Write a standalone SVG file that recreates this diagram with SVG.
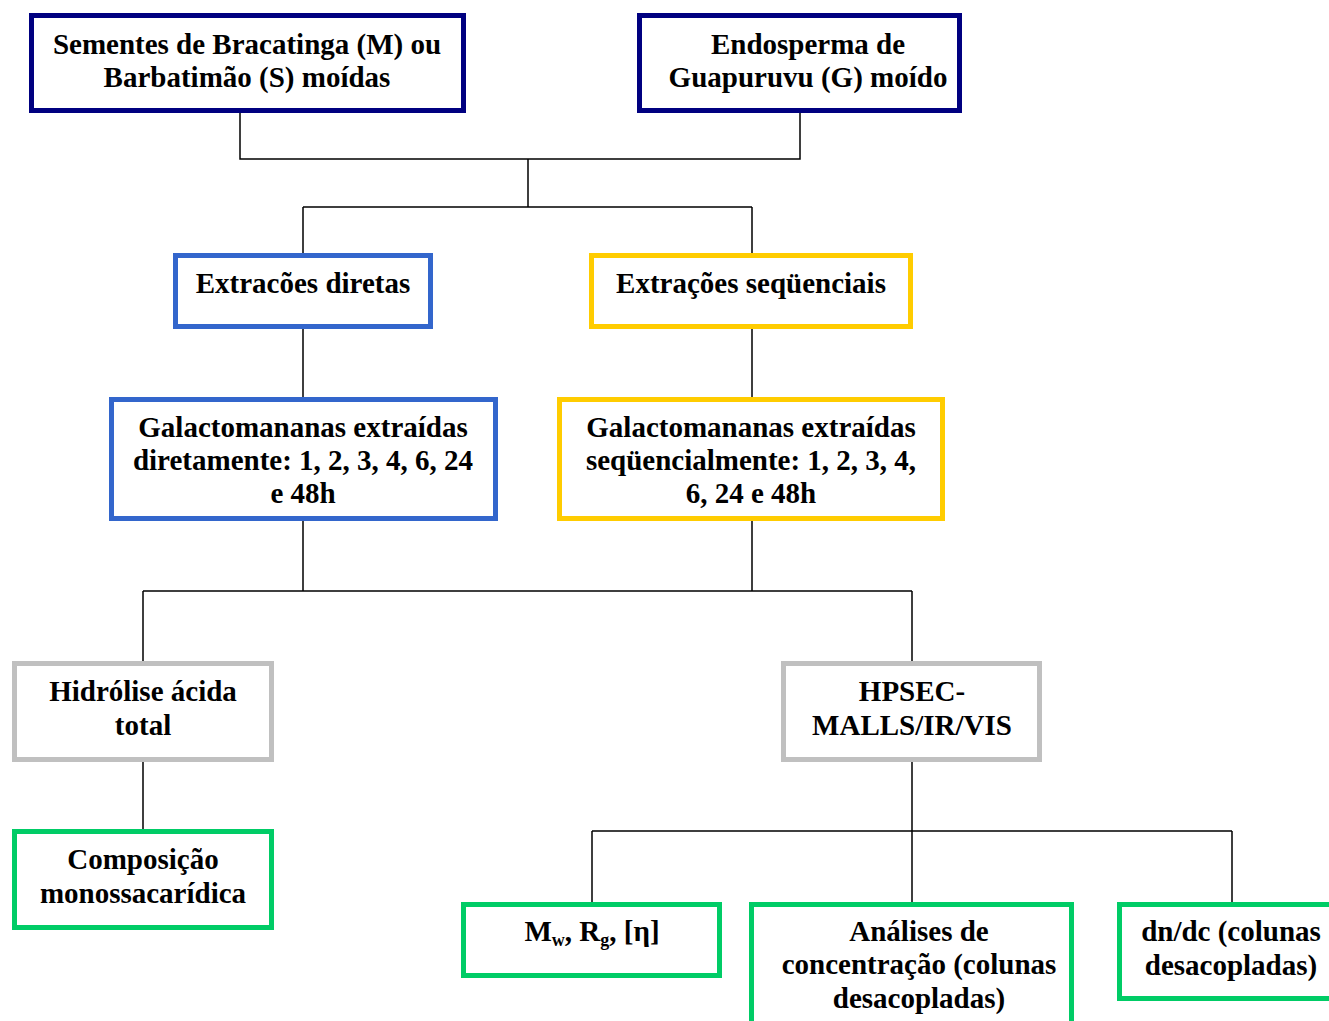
<svg xmlns="http://www.w3.org/2000/svg" width="1329" height="1021" viewBox="0 0 1329 1021">
<style>
.box{fill:#fff;stroke-width:5}
.navy{stroke:#000080}.blue{stroke:#3366CC}.yel{stroke:#FFCC00}.gray{stroke:#C0C0C0}.green{stroke:#00CC66}
text{font-family:"Liberation Serif","Times New Roman",serif;font-weight:bold;font-size:29px;fill:#000;text-anchor:middle}
.c{fill:none;stroke:#000;stroke-width:1.5}
</style>
<rect width="1329" height="1021" fill="#fff"/>
<g id="connectors">
<path class="c" d="M240 113V159H800V113M528 159V207M303 207H752M303 207V254M752 207V254"/>
<path class="c" d="M303 329V398M752 329V398"/>
<path class="c" d="M303 521V591M752 521V591M143 591H912M143 591V662M912 591V662"/>
<path class="c" d="M143 762V830M912 762V903M592 831H1232M592 831V903M1232 831V903"/>
</g>
<g id="n1"><rect class="box navy" x="31.5" y="15.5" width="432" height="95"/>
<text x="247" y="54">Sementes de Bracatinga (M) ou</text><text x="247" y="87">Barbatimão (S) moídas</text></g>
<g id="n2"><rect class="box navy" x="639.5" y="15.5" width="320" height="95"/>
<text x="808" y="54">Endosperma de</text><text x="808" y="87">Guapuruvu (G) moído</text></g>
<g id="n3"><rect class="box blue" x="175.5" y="255.5" width="255" height="71"/>
<text x="303" y="293">Extracões diretas</text></g>
<g id="n4"><rect class="box yel" x="591.5" y="255.5" width="319" height="71"/>
<text x="751" y="293">Extrações seqüenciais</text></g>
<g id="n5"><rect class="box blue" x="111.5" y="399.5" width="384" height="119"/>
<text x="303" y="437">Galactomananas extraídas</text><text x="303" y="470">diretamente: 1, 2, 3, 4, 6, 24</text><text x="303" y="503">e 48h</text></g>
<g id="n6"><rect class="box yel" x="559.5" y="399.5" width="383" height="119"/>
<text x="751" y="437">Galactomananas extraídas</text><text x="751" y="470">seqüencialmente: 1, 2, 3, 4,</text><text x="751" y="503">6, 24 e 48h</text></g>
<g id="n7"><rect class="box gray" x="14.5" y="663.5" width="257" height="96"/>
<text x="143" y="701">Hidrólise ácida</text><text x="143" y="735">total</text></g>
<g id="n8"><rect class="box gray" x="783.5" y="663.5" width="256" height="96"/>
<text x="912" y="701">HPSEC-</text><text x="912" y="735">MALLS/IR/VIS</text></g>
<g id="n9"><rect class="box green" x="14.5" y="831.5" width="257" height="96"/>
<text x="143" y="869">Composição</text><text x="143" y="903">monossacarídica</text></g>
<g id="n10"><rect class="box green" x="463.5" y="904.5" width="256" height="71"/>
<text x="592" y="941">M<tspan font-size="18" dy="5">w</tspan><tspan dy="-5">, R</tspan><tspan font-size="18" dy="5">g</tspan><tspan dy="-5">, [η]</tspan></text></g>
<g id="n11"><rect class="box green" x="751.5" y="904.5" width="320" height="130"/>
<text x="919" y="941">Análises de</text><text x="919" y="974">concentração (colunas</text><text x="919" y="1008">desacopladas)</text></g>
<g id="n12"><rect class="box green" x="1119.5" y="904.5" width="230" height="94"/>
<text x="1231" y="941">dn/dc (colunas</text><text x="1231" y="975">desacopladas)</text></g>
</svg>
